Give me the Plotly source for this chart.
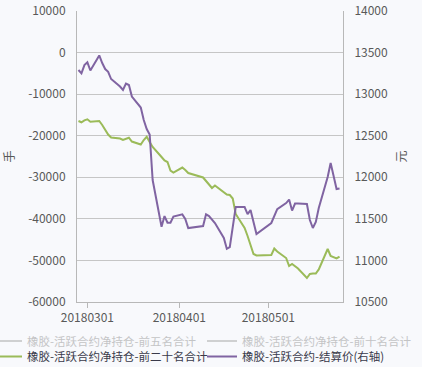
import plotly.graph_objects as go

dates = [
    "2018-02-26", "2018-02-27", "2018-02-28", "2018-03-01", "2018-03-02",
    "2018-03-05", "2018-03-06", "2018-03-07", "2018-03-08", "2018-03-09",
    "2018-03-12", "2018-03-13", "2018-03-14", "2018-03-15", "2018-03-16",
    "2018-03-19", "2018-03-20", "2018-03-21", "2018-03-22", "2018-03-23",
    "2018-03-26", "2018-03-27", "2018-03-28", "2018-03-29", "2018-03-30",
    "2018-04-02", "2018-04-03", "2018-04-04",
    "2018-04-09", "2018-04-10", "2018-04-11", "2018-04-12", "2018-04-13",
    "2018-04-16", "2018-04-17", "2018-04-18", "2018-04-19", "2018-04-20",
    "2018-04-23", "2018-04-24", "2018-04-25", "2018-04-26", "2018-04-27",
    "2018-05-02", "2018-05-03", "2018-05-04",
    "2018-05-07", "2018-05-08", "2018-05-09", "2018-05-10", "2018-05-11",
    "2018-05-14", "2018-05-15", "2018-05-16", "2018-05-17", "2018-05-18",
    "2018-05-21", "2018-05-22", "2018-05-23", "2018-05-24", "2018-05-25",
]

net_top20 = [
    -16460, -16770, -16300, -16050, -16630,
    -16460, -17420, -18500, -19710, -20430,
    -20670, -21030, -20670, -20480, -21400,
    -22110, -21030, -20240, -21520, -22720,
    -25120, -25960, -26320, -28370, -28850,
    -27650, -28250, -28970,
    -30050, -30890, -31620, -32580, -31980,
    -33540, -34140, -34260, -35100, -38830,
    -42200, -44120, -46050, -48450, -48810,
    -48690, -47130, -47850,
    -49420, -51340, -50860, -51460, -51940,
    -54230, -53270, -53150, -53150, -52160,
    -47250, -48930, -49290, -49490, -49060,
]

settle_price = [
    13290, 13250, 13350, 13383, 13284,
    13465, 13374, 13302, 13269, 13182,
    13092, 13050, 13128, 13110, 12971,
    12839, 12689, 12580, 12514, 11967,
    11405, 11534, 11453, 11453, 11528,
    11554, 11500, 11389,
    11414, 11554, 11534, 11486, 11450,
    11270, 11140, 11161, 11426, 11642,
    11642, 11558, 11606, 11462, 11317,
    11450, 11534, 11618,
    11690, 11732, 11600, 11684, 11684,
    11678, 11486, 11390, 11462, 11630,
    12003, 12171, 12015, 11859, 11865,
]

# hidden series (legend-only in the reference; values not shown)
net_top5_dates = ["2018-02-26"]
net_top5 = [None]
net_top10_dates = ["2018-02-26"]
net_top10 = [None]

series_names = [
    "橡胶-活跃合约净持仓-前五名合计",
    "橡胶-活跃合约净持仓-前十名合计",
    "橡胶-活跃合约净持仓-前二十名合计",
    "橡胶-活跃合约-结算价(右轴)",
]

x_tick_vals = ["2018-03-01", "2018-04-01", "2018-05-01"]
x_tick_text = ["20180301", "20180401", "20180501"]
left_ticks = [10000, 0, -10000, -20000, -30000, -40000, -50000, -60000]
left_tick_text = ["10000", "0", "-10000", "-20000", "-30000", "-40000", "-50000", "-60000"]
right_ticks = [14000, 13500, 13000, 12500, 12000, 11500, 11000, 10500]
right_tick_text = ["14000", "13500", "13000", "12500", "12000", "11500", "11000", "10500"]

FONT = "Noto Sans CJK SC, Noto Sans, sans-serif"
BG = "#f8f9fc"
GRID = "#c6c6c6"
AXIS = "#b8b8b8"
TICK = "#595959"

fig = go.Figure()
fig.add_trace(go.Scatter(x=net_top5_dates, y=net_top5, name=series_names[0], mode="lines",
                         line=dict(color="#a8a8a8", width=2), visible="legendonly",
                         legend="legend"))
fig.add_trace(go.Scatter(x=net_top10_dates, y=net_top10, name=series_names[1], mode="lines",
                         line=dict(color="#a8a8a8", width=2), visible="legendonly",
                         legend="legend2"))
fig.add_trace(go.Scatter(x=dates, y=net_top20, name=series_names[2], mode="lines",
                         line=dict(color="#9bbb59", width=2), legend="legend3"))
fig.add_trace(go.Scatter(x=dates, y=settle_price, name=series_names[3], mode="lines",
                         line=dict(color="#8064a2", width=2), yaxis="y2", legend="legend4"))

# plot area: x 77..343 px, y 11..302 px
PL, PR, PT, PB = 77, 343, 11, 302

def px_to_paper_x(px):
    return (px - PL) / (PR - PL)

def px_to_paper_y(py):
    return (PB - py) / (PB - PT)

col1_left = 27 - 40
col2_left = 242 - 40
row1_c = 341
row2_c = 356.5

def leg(x, y, color):
    return dict(x=px_to_paper_x(x), y=px_to_paper_y(y), xref="paper", yref="paper",
                xanchor="left", yanchor="middle", bgcolor="rgba(0,0,0,0)", borderwidth=0,
                font=dict(family=FONT, size=11.5, color=color))

fig.update_layout(
    width=422, height=367,
    margin=dict(l=PL, r=422 - PR, t=PT, b=367 - PB, autoexpand=False),
    paper_bgcolor=BG, plot_bgcolor=BG,
    font=dict(family=FONT, size=12, color=TICK),
    showlegend=True,
    legend=leg(col1_left, row1_c, "#909090"),
    legend2=leg(col2_left, row1_c, "#909090"),
    legend3=leg(col1_left, row2_c, "#3a3a4a"),
    legend4=leg(col2_left, row2_c, "#3a3a4a"),
    xaxis=dict(type="date", range=["2018-02-25 12:00", "2018-05-26 04:00"],
               tickvals=x_tick_vals, ticktext=x_tick_text,
               showgrid=False, zeroline=False, showline=True, linecolor=AXIS, linewidth=1,
               ticks="outside", ticklen=5, tickcolor=AXIS,
               tickfont=dict(family=FONT, size=12, color=TICK)),
    yaxis=dict(range=[-60000, 10000], tickvals=left_ticks, ticktext=left_tick_text,
               showgrid=True, gridcolor=GRID,
               zeroline=False, showline=True, linecolor=AXIS, linewidth=1,
               ticks="", ticklabelstandoff=8,
               tickfont=dict(family=FONT, size=12, color=TICK),
               title=dict(text="手", font=dict(family=FONT, size=12, color=TICK))),
    yaxis2=dict(range=[10500, 14000], tickvals=right_ticks, ticktext=right_tick_text,
                overlaying="y", side="right",
                showgrid=False, zeroline=False, showline=True, linecolor=AXIS, linewidth=1,
                ticks="", ticklabelstandoff=8,
                tickfont=dict(family=FONT, size=12, color=TICK),
                title=dict(text="元", standoff=10, font=dict(family=FONT, size=12, color=TICK))),
)

fig.write_html(
    "out.html",
    config={"displayModeBar": False},
    post_script="document.body.style.margin='0';document.body.style.padding='0';"
                "document.body.style.background='" + BG + "';",
)
